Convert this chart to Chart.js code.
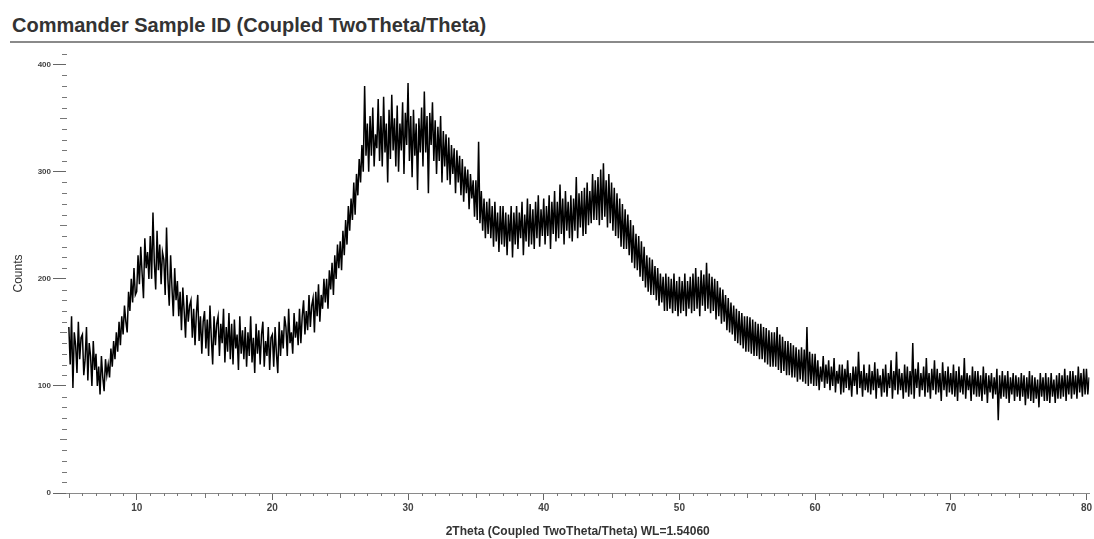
<!DOCTYPE html>
<html>
<head>
<meta charset="utf-8">
<script src="https://cdn.jsdelivr.net/npm/chart.js@4/dist/chart.umd.min.js"></script>
<style>
  body { margin: 0; background: #fff; width: 1094px; height: 539px; overflow: hidden; position: relative; }
  #title { position: absolute; left: 12px; top: 13px; font: bold 20px/24px "Liberation Sans", Arial, sans-serif; color: #333; white-space: nowrap; }
  #rule { position: absolute; left: 10px; right: 0; top: 41px; height: 2px; background: #8a8a8a; }
  #chart { position: absolute; left: 0; top: 0; }
</style>
</head>
<body>
<div id="title">Commander Sample ID (Coupled TwoTheta/Theta)</div>
<div id="rule"></div>
<canvas id="chart" width="1094" height="539"></canvas>
<script>
// scan: 2Theta from 5.0 in steps of 0.1 deg
const scanStart = 5.0;
const scanStep = 0.1;

// counts, one row per degree (10 readings)
const counts5to25 = [
  155, 120, 165, 98, 150, 138, 112, 160, 125, 145,
  148, 110, 125, 155, 105, 140, 128, 100, 142, 115,
  130, 100, 118, 92, 128, 108, 95, 125, 110, 120,
  108, 135, 118, 142, 125, 150, 132, 160, 138, 165,
  148, 175, 160, 150, 188, 170, 200, 178, 210, 185,
  188, 222, 195, 230, 205, 182, 238, 210, 225, 200,
  240, 200, 262, 215, 190, 245, 208, 232, 195, 225,
  218, 185, 248, 200, 175, 222, 192, 165, 210, 180,
  198, 165, 188, 152, 192, 170, 145, 185, 160, 175,
  180, 145, 172, 138, 168, 185, 142, 165, 130, 160,
  170, 135, 162, 128, 175, 145, 120, 165, 138, 158,
  165, 128, 158, 140, 172, 122, 155, 132, 168, 125,
  158, 120, 162, 135, 148, 115, 165, 130, 152, 125,
  155, 118, 150, 128, 165, 122, 145, 112, 158, 130,
  152, 120, 148, 160, 118, 142, 128, 155, 115, 145,
  148, 118, 155, 130, 112, 160, 128, 152, 135, 165,
  155, 128, 172, 140, 150, 130, 168, 145, 160, 138,
  172, 140, 165, 180, 148, 170, 152, 185, 155, 175,
  182, 150, 188, 165, 195, 160, 185, 172, 200, 178,
  200, 172, 208, 190, 215, 185, 222, 200, 232, 210
];
const counts25to50 = [
  235, 208, 245, 222, 255, 232, 268, 245, 275, 255,
  290, 260, 298, 278, 312, 290, 325, 300, 380, 315,
  345, 300, 352, 315, 360, 305, 335, 322, 368, 310,
  352, 305, 370, 318, 345, 290, 358, 312, 372, 320,
  350, 305, 362, 300, 345, 320, 365, 298, 355, 325,
  383, 310, 352, 295, 358, 315, 345, 283, 350, 318,
  360, 305, 375, 318, 352, 280, 355, 325, 365, 310,
  348, 298, 342, 310, 352, 290, 338, 305, 335, 292,
  332, 288, 325, 298, 322, 280, 320, 290, 315, 278,
  312, 272, 305, 280, 302, 265, 298, 275, 292, 258,
  292, 255, 328, 252, 282, 245, 275, 238, 272, 242,
  275, 238, 268, 230, 272, 235, 262, 225, 268, 232,
  268, 230, 262, 222, 260, 235, 268, 220, 262, 232,
  268, 228, 262, 238, 272, 222, 260, 235, 275, 230,
  270, 232, 265, 228, 272, 238, 278, 230, 265, 240,
  275, 232, 268, 240, 278, 228, 272, 242, 282, 235,
  272, 238, 288, 242, 275, 232, 282, 245, 272, 238,
  278, 235, 275, 245, 295, 238, 280, 248, 282, 240,
  285, 242, 290, 250, 282, 252, 298, 255, 292, 255,
  295, 250, 302, 255, 308, 258, 292, 248, 298, 252,
  290, 245, 285, 240, 280, 238, 275, 230, 270, 228,
  265, 228, 260, 222, 255, 215, 250, 210, 242, 208,
  240, 202, 235, 198, 230, 192, 222, 188, 220, 185,
  218, 185, 212, 180, 210, 175, 205, 178, 202, 170,
  205, 170, 202, 172, 200, 168, 205, 170, 198, 165
];
const counts50to80 = [
  202, 168, 198, 170, 205, 165, 198, 172, 202, 168,
  205, 170, 210, 172, 202, 165, 208, 175, 204, 170,
  215, 172, 205, 168, 202, 170, 200, 162, 198, 165,
  192, 158, 190, 160, 185, 152, 182, 150, 178, 148,
  175, 142, 172, 140, 170, 138, 168, 135, 165, 132,
  165, 132, 164, 130, 162, 128, 160, 128, 158, 125,
  158, 125, 155, 122, 154, 120, 152, 118, 150, 118,
  150, 118, 155, 115, 148, 112, 146, 114, 142, 110,
  142, 110, 140, 108, 138, 108, 136, 104, 134, 106,
  136, 104, 134, 102, 155, 100, 132, 102, 130, 100,
  130, 100, 124, 96, 118, 104, 128, 98, 120, 102,
  124, 96, 118, 100, 126, 94, 114, 102, 120, 92,
  120, 94, 116, 98, 124, 96, 112, 90, 118, 100,
  118, 92, 132, 98, 114, 90, 120, 96, 112, 94,
  120, 92, 114, 96, 122, 88, 116, 98, 110, 90,
  116, 94, 120, 90, 112, 98, 124, 88, 114, 96,
  132, 92, 116, 96, 112, 88, 120, 94, 118, 90,
  114, 92, 140, 88, 116, 98, 122, 90, 112, 96,
  118, 90, 126, 94, 112, 88, 116, 96, 124, 92,
  116, 94, 112, 86, 122, 96, 114, 90, 118, 94,
  112, 92, 120, 90, 114, 86, 118, 94, 110, 92,
  126, 88, 112, 96, 110, 86, 118, 92, 114, 90,
  114, 90, 110, 86, 118, 92, 112, 84, 110, 94,
  112, 88, 108, 92, 116, 68, 110, 88, 114, 90,
  110, 88, 114, 84, 108, 92, 112, 86, 110, 90,
  108, 86, 112, 90, 110, 82, 108, 88, 114, 86,
  110, 84, 108, 88, 106, 80, 112, 90, 108, 86,
  112, 86, 108, 84, 112, 90, 106, 84, 110, 88,
  112, 88, 110, 90, 116, 86, 110, 92, 114, 88,
  114, 92, 110, 88, 118, 94, 112, 90, 116, 92,
  116, 92, 108
];

const xTicks = [10, 20, 30, 40, 50, 60, 70, 80];
const yTicks = [0, 100, 200, 300, 400];

const counts = counts5to25.concat(counts25to50, counts50to80);
const points = counts.map((c, i) => ({ x: +(scanStart + i * scanStep).toFixed(1), y: c }));

// small ticks every 1 deg / every 10 counts
const minorTicks = {
  id: 'minorTicks',
  afterDraw(chart) {
    const { ctx, chartArea } = chart;
    const x = chart.scales.x, y = chart.scales.y;
    ctx.save();
    ctx.strokeStyle = '#777';
    ctx.lineWidth = 1;
    ctx.beginPath();
    for (let v = Math.ceil(x.min); v <= x.max; v++) {
      if (v % 10 === 0) continue;
      const px = Math.round(x.getPixelForValue(v)) + 0.5;
      const len = v % 5 === 0 ? 5 : 3;
      ctx.moveTo(px, chartArea.bottom);
      ctx.lineTo(px, chartArea.bottom + len);
    }
    for (let v = 10; v <= y.max; v += 10) {
      if (v % 100 === 0) continue;
      const py = Math.round(y.getPixelForValue(v)) + 0.5;
      const len = v % 50 === 0 ? 6 : 4;
      ctx.moveTo(chartArea.left - len, py);
      ctx.lineTo(chartArea.left + 1, py);
    }
    ctx.stroke();
    ctx.restore();
  }
};

new Chart(document.getElementById('chart'), {
  type: 'line',
  data: {
    datasets: [{
      data: points,
      borderColor: '#000',
      borderWidth: 1.5,
      pointRadius: 0,
      tension: 0,
      fill: false
    }]
  },
  options: {
    responsive: false,
    animation: false,
    devicePixelRatio: 1,
    layout: { padding: { top: 54, left: 0, right: 0, bottom: 0 } },
    plugins: { legend: { display: false }, tooltip: { enabled: false } },
    scales: {
      x: {
        type: 'linear',
        min: 4.79,
        max: 80.22,
        afterBuildTicks: s => { s.ticks = xTicks.map(v => ({ value: v })); },
        afterFit: s => { s.height = 46; },
        grid: { drawOnChartArea: false, tickLength: 7, tickColor: '#666' },
        border: { display: true, color: '#8a8a8a', width: 1 },
        ticks: {
          autoSkip: false, maxRotation: 0, padding: 2, color: '#444',
          font: { family: 'Liberation Sans, Arial, sans-serif', size: 10, weight: 'bold' }
        },
        title: {
          display: true,
          text: '2Theta (Coupled TwoTheta/Theta) WL=1.54060',
          color: '#333',
          padding: { top: 0, bottom: 0 },
          font: { family: 'Liberation Sans, Arial, sans-serif', size: 12, weight: 'bold' }
        }
      },
      y: {
        min: 0,
        max: 410,
        afterBuildTicks: s => { s.ticks = yTicks.map(v => ({ value: v })); },
        afterFit: s => { s.width = 66; },
        grid: { drawOnChartArea: false, tickLength: 13, tickColor: '#666' },
        border: { display: false },
        ticks: {
          autoSkip: false, padding: 2, color: '#444',
          font: { family: 'Liberation Sans, Arial, sans-serif', size: 8, weight: 'bold' }
        },
        title: {
          display: true,
          text: 'Counts',
          color: '#333',
          padding: { top: 11, bottom: 0 },
          font: { family: 'Liberation Sans, Arial, sans-serif', size: 12 }
        }
      }
    }
  },
  plugins: [minorTicks]
});
</script>
</body>
</html>
